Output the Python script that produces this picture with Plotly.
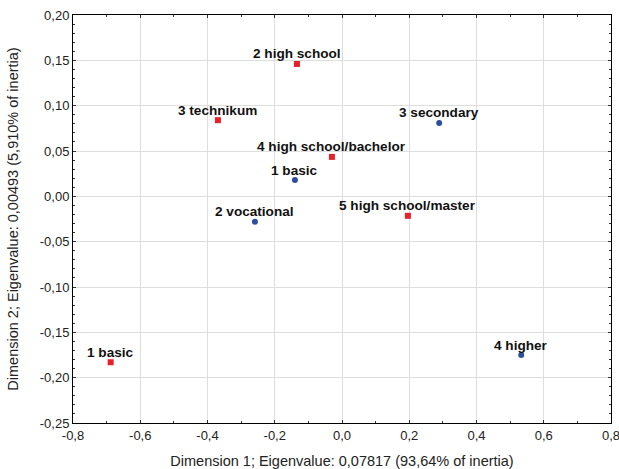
import plotly.graph_objects as go

# Column points (blue circles)
col_labels = ["1 basic", "2 vocational", "3 secondary", "4 higher"]
col_x = [-0.140, -0.259, 0.289, 0.533]
col_y = [0.018, -0.028, 0.081, -0.175]

# Row points (red squares)
row_labels = ["1 basic", "2 high school", "3 technikum", "4 high school/bachelor", "5 high school/master"]
row_x = [-0.688, -0.134, -0.369, -0.030, 0.196]
row_y = [-0.183, 0.146, 0.084, 0.0435, -0.0215]

x_ticks = [-0.8, -0.6, -0.4, -0.2, 0.0, 0.2, 0.4, 0.6, 0.8]
y_ticks = [-0.25, -0.20, -0.15, -0.10, -0.05, 0.0, 0.05, 0.10, 0.15, 0.20]

x_title = "Dimension 1; Eigenvalue: 0,07817 (93,64% of inertia)"
y_title = "Dimension 2; Eigenvalue: 0,00493 (5,910% of inertia)"

FONT = "Liberation Sans, Arial"

fig = go.Figure()
fig.add_trace(go.Scatter(
    x=row_x, y=row_y, mode="markers",
    marker=dict(symbol="square", size=6, color="#e8202a"),
    showlegend=False, cliponaxis=False, hoverinfo="skip",
))
fig.add_trace(go.Scatter(
    x=col_x, y=col_y, mode="markers",
    marker=dict(symbol="circle", size=6, color="#2b4f9e"),
    showlegend=False, cliponaxis=False, hoverinfo="skip",
))

for lx, ly, lt in list(zip(row_x, row_y, row_labels)) + list(zip(col_x, col_y, col_labels)):
    fig.add_annotation(
        x=lx, y=ly, text=lt, showarrow=False,
        xanchor="center", yanchor="middle", yshift=10,
        font=dict(family=FONT, size=13.6, color="#111111", weight="bold"),
    )

axis_common = dict(
    showline=True, linecolor="black", linewidth=1, mirror="ticks",
    ticks="inside", ticklen=3, tickcolor="#333333",
    showgrid=True, gridcolor="#dedede", gridwidth=1, zeroline=False,
    tickfont=dict(family=FONT, size=13, color="#222222"),
    ticklabeloverflow="allow",
)

fig.update_xaxes(
    range=[-0.8, 0.8], tickmode="array", tickvals=x_ticks,
    ticktext=[f"{v:.1f}".replace(".", ",") for v in x_ticks],
    minor=dict(dtick=0.1, tick0=-0.8, ticks="inside", ticklen=2, tickcolor="#333333", showgrid=False),
    title=dict(text=x_title, font=dict(family=FONT, size=14.5, color="#222222"), standoff=15),
    **axis_common,
)
fig.update_yaxes(
    range=[-0.25, 0.20], tickmode="array", tickvals=y_ticks,
    ticktext=[f"{v:.2f}".replace(".", ",") for v in y_ticks],
    minor=dict(dtick=0.01, tick0=-0.25, ticks="inside", ticklen=2, tickcolor="#333333", showgrid=False),
    title=dict(text=y_title, font=dict(family=FONT, size=14.5, color="#222222"), standoff=17),
    **axis_common,
)

fig.update_layout(
    width=619, height=469,
    margin=dict(l=73, r=8, t=15, b=46, autoexpand=False),
    plot_bgcolor="white", paper_bgcolor="white",
)

fig.write_html("out.html")
